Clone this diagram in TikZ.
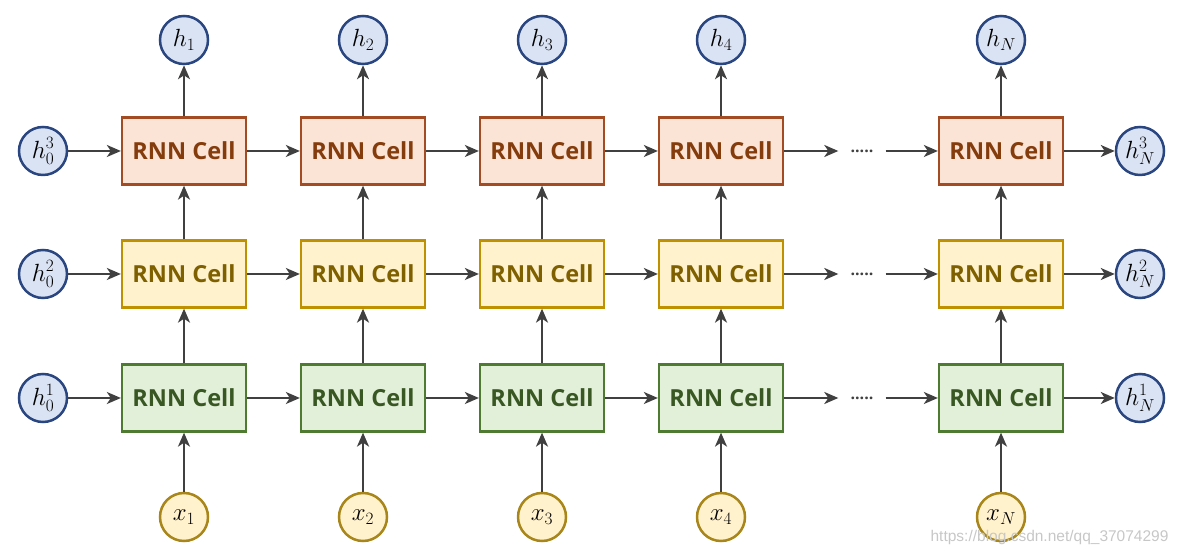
\documentclass[tikz,border=0pt]{standalone}
\usepackage{fontspec}
\setsansfont{Open Sans}
\newfontfamily\wmfont{Liberation Sans}
\usetikzlibrary{arrows.meta}
\definecolor{topfill}{HTML}{FBE3D5}
\definecolor{topdraw}{HTML}{A34B22}
\definecolor{toptext}{HTML}{843C0C}
\definecolor{midfill}{HTML}{FFF2CC}
\definecolor{middraw}{HTML}{BF9000}
\definecolor{midtext}{HTML}{7F6000}
\definecolor{botfill}{HTML}{E2F0D9}
\definecolor{botdraw}{HTML}{4F7A32}
\definecolor{bottext}{HTML}{385723}
\definecolor{hfill}{HTML}{DAE3F3}
\definecolor{hdraw}{HTML}{2A4680}
\definecolor{xfill}{HTML}{FFF2CC}
\definecolor{xdraw}{HTML}{A8861A}
\definecolor{arrowgray}{HTML}{404040}

\begin{document}
\begin{tikzpicture}[x=1pt, y=1pt,
  cell/.style={draw, line width=2.3pt, minimum width=124pt, minimum height=67pt,
    font=\sffamily\bfseries\fontsize{23.5}{26}\selectfont},
  cellthree/.style={cell, fill=topfill, draw=topdraw, text=toptext},
  celltwo/.style={cell, fill=midfill, draw=middraw, text=midtext},
  cellone/.style={cell, fill=botfill, draw=botdraw, text=bottext},
  hcirc/.style={circle, draw=hdraw, fill=hfill, line width=2.5pt, minimum size=48pt,
    inner sep=0pt, font=\fontsize{25}{28}\selectfont},
  xcirc/.style={hcirc, draw=xdraw, fill=xfill},
  dotsnode/.style={inner xsep=12pt, minimum width=47pt, text=arrowgray,
    font=\sffamily\bfseries\fontsize{16}{18}\selectfont},
  link/.style={-{Stealth[length=14pt, width=12pt, inset=4pt]}, line width=2.2pt, draw=arrowgray}]
\useasboundingbox (0,0) rectangle (1180,556);

\foreach \i/\x/\n in {1/184/1, 2/363/2, 3/542/3, 4/721/4, 5/1001/N} {
  \node[cellthree] (c3-\i) at (\x,405) {RNN Cell};
  \node[celltwo] (c2-\i) at (\x,282) {RNN Cell};
  \node[cellone] (c1-\i) at (\x,158) {RNN Cell};
  \node[hcirc] (h-\i) at (\x,516) {$h_{\n}$};
  \node[xcirc] (x-\i) at (\x,39) {$x_{\n}$};
  \draw[link] (x-\i) -- (c1-\i);
  \draw[link] (c1-\i) -- (c2-\i);
  \draw[link] (c2-\i) -- (c3-\i);
  \draw[link] (c3-\i) -- (h-\i);
}

\foreach \r/\y in {3/405, 2/282, 1/158} {
  \node[hcirc] (h0-\r) at (43,\y) {$h_0^{\r}$};
  \node[hcirc] (hN-\r) at (1140,\y) {$h_N^{\r}$};
  \node[dotsnode] (d-\r) at (862,\y) {.....};
  \draw[link] (h0-\r) -- (c\r-1);
  \draw[link] (c\r-1) -- (c\r-2);
  \draw[link] (c\r-2) -- (c\r-3);
  \draw[link] (c\r-3) -- (c\r-4);
  \draw[link] (c\r-4) -- (d-\r);
  \draw[link] (d-\r) -- (c\r-5);
  \draw[link] (c\r-5) -- (hN-\r);
}

\node[text=black!22, font=\wmfont\fontsize{15.5}{17}\selectfont, anchor=east] (wm) at (1172,19) {https://blog.csdn.net/qq\_37074299};
\end{tikzpicture}
\end{document}
